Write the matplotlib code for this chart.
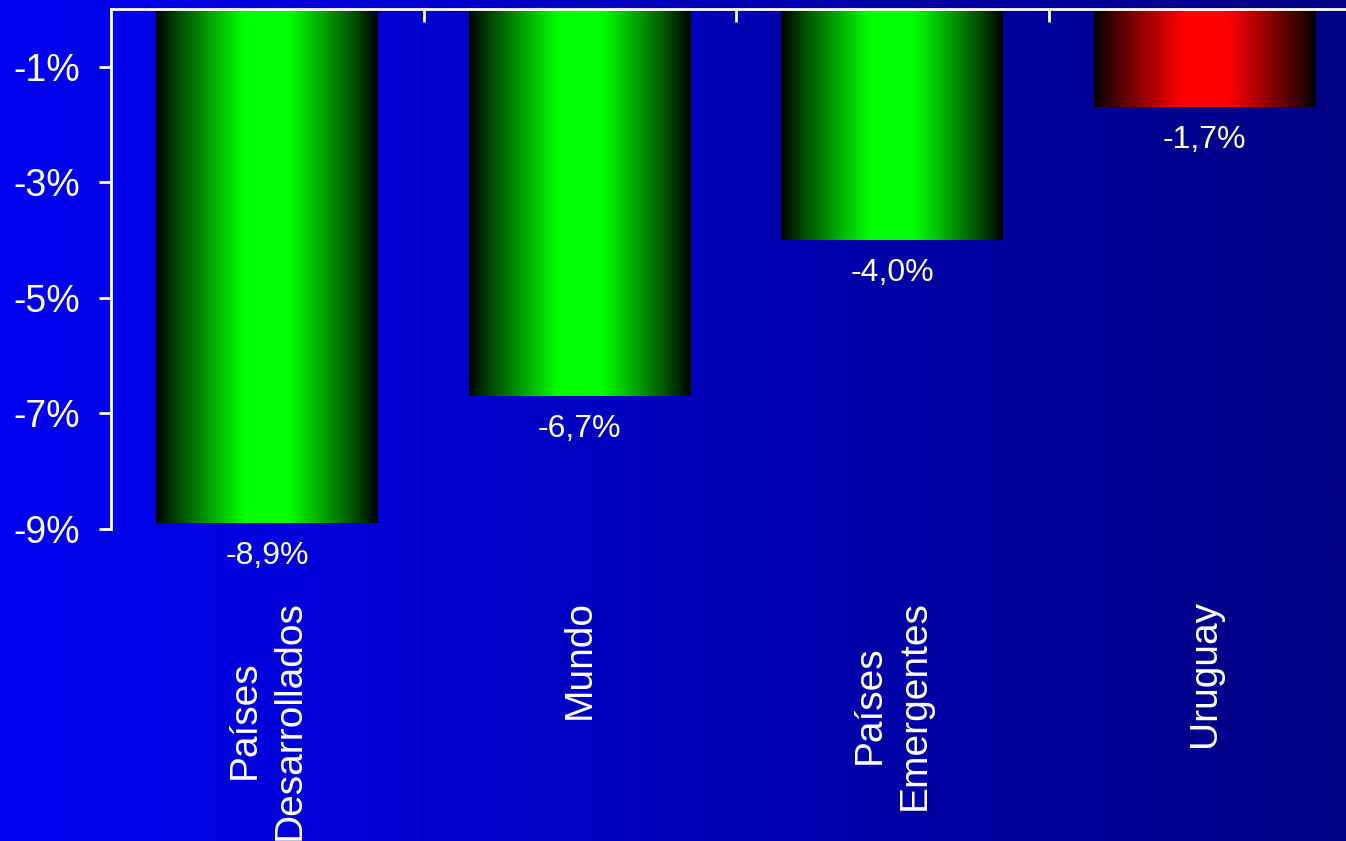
import numpy as np
import matplotlib
matplotlib.use('Agg')
import matplotlib.pyplot as plt
from matplotlib.colors import LinearSegmentedColormap

categories = ["Países\nDesarrollados", "Mundo", "Países\nEmergentes", "Uruguay"]
values = [-8.9, -6.7, -4.0, -1.7]
value_labels = ["-8,9%", "-6,7%", "-4,0%", "-1,7%"]
bar_colors = [(0, 1, 0), (0, 1, 0), (0, 1, 0), (1, 0, 0)]
yticks = [-1, -3, -5, -7, -9]
ytick_labels = ["-1%", "-3%", "-5%", "-7%", "-9%"]

plt.rcParams['font.family'] = ['Liberation Sans', 'DejaVu Sans']

W, H = 1346, 841
fig = plt.figure(figsize=(W / 100, H / 100), dpi=100)

# background gradient
bg = fig.add_axes([0, 0, 1, 1], zorder=0)
grad = np.linspace(0, 1, 512)[None, :]
bg_cmap = LinearSegmentedColormap.from_list('bg', ['#0000F2', '#000082'])
bg.imshow(grad, aspect='auto', cmap=bg_cmap, extent=[0, 1, 0, 1])
bg.axis('off')

ax = fig.add_axes([111 / W, 1 - 529 / H, 1250 / W, 520 / H], zorder=1)
ax.patch.set_alpha(0)

x = np.arange(len(values))
bars = ax.bar(x, values, width=0.71, color='none', edgecolor='none')

t = np.linspace(0, 1, 256)
d = np.abs(2 * t - 1)
inten = np.clip((1 - d) / 0.8, 0, 1) ** 0.9
for b, c, lab in zip(bars, bar_colors, value_labels):
    img = np.zeros((1, 256, 3))
    for k in range(3):
        img[0, :, k] = inten * c[k]
    x0, w = b.get_x(), b.get_width()
    y0, h = b.get_y(), b.get_height()
    ax.imshow(img, extent=[x0, x0 + w, y0 + h, y0], aspect='auto',
              interpolation='bilinear', zorder=2)
    ax.annotate(lab, (x0 + w / 2, y0 + h), xytext=(0, -13),
                textcoords='offset points', ha='center', va='top',
                color='white', fontsize=23)

ax.set_xlim(-0.5, len(values) - 0.5)
ax.set_ylim(-9, 0)

for s in ['bottom', 'right']:
    ax.spines[s].set_visible(False)
for s in ['top', 'left']:
    ax.spines[s].set_color('white')
    ax.spines[s].set_linewidth(2)
    ax.spines[s].set_zorder(3)

ax.set_yticks(yticks)
ax.set_yticklabels(ytick_labels, fontsize=27, color='white')
ax.tick_params(axis='y', direction='out', length=9, width=2, color='white', pad=13)

ax.set_xticks(x)
ax.set_xticklabels(categories, rotation=90, fontsize=28, color='white',
                   multialignment='center', linespacing=1.3)
ax.tick_params(axis='x', which='major', length=0, pad=51)
ax.set_xticks(np.arange(0.5, len(values) - 1, 1.0), minor=True)
ax.tick_params(axis='x', which='minor', top=True, bottom=False, direction='in',
               length=9, width=2, color='white')

fig.savefig('out.png', dpi=100)
